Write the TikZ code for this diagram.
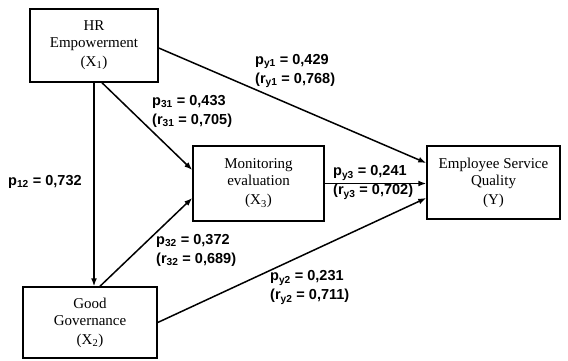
\documentclass[tikz,border=0pt]{standalone}
\usepackage{fontspec}
\setmainfont{Liberation Serif}
\newfontfamily\lblfont{Liberation Sans}
\usetikzlibrary{arrows.meta}

\begin{document}
\begin{tikzpicture}[x = 1pt, y = -1pt,
  var/.style = {draw, line width = 1.5pt, align = center, inner sep = 0pt,
    font = \fontsize{15}{17}\selectfont},
  coef/.style = {anchor = west, align = left, inner sep = 0pt,
    font = \lblfont\bfseries\fontsize{14.5}{19}\selectfont},
  path/.style = {line width = 1.5pt, -{Latex[length = 8pt, width = 6pt]}}]
\useasboundingbox (0,0) rectangle (568,361);
\node [var, minimum width = 128, minimum height = 73] (x1) at (94,45.5) {HR\\Empowerment\\[2pt](X\textsubscript{1})};
\node [var, minimum width = 134, minimum height = 71] (x2) at (90,322.5) {Good\\Governance\\[2pt](X\textsubscript{2})};
\node [var, minimum width = 131, minimum height = 75] (x3) at (258.5,183.5) {Monitoring\\evaluation\\[2pt](X\textsubscript{3})};
\node [var, minimum width = 133, minimum height = 73] (y) at (493.5,182.5) {Employee Service\\Quality\\[2pt](Y)};
\draw [path] (x1.south) -- (x1.south |- x2.north);
\draw [path] ([xshift = 8pt]x1.south) -- ([yshift = 13.5pt]x3.west);
\draw [path] ([xshift = 10pt]x2.north) -- ([yshift = -14.5pt]x3.west);
\draw [path] ([yshift = -2.5pt]x1.east) -- ([yshift = 19.5pt]y.west);
\draw [path] (x3.east) -- (x3.east -| y.west);
\draw [path] (x2.east) -- ([yshift = -15.5pt]y.west);
\node [coef] (py1) at (255,71) {p\textsubscript{y1} = 0,429\\(r\textsubscript{y1} = 0,768)};
\node [coef] (p31) at (152,111) {p\textsubscript{31} = 0,433\\(r\textsubscript{31} = 0,705)};
\node [coef] (p12) at (8,182) {p\textsubscript{12} = 0,732};
\node [coef] (py3) at (333,182.5) {p\textsubscript{y3} = 0,241\\(r\textsubscript{y3} = 0,702)};
\node [coef] (p32) at (156,250) {p\textsubscript{32} = 0,372\\(r\textsubscript{32} = 0,689)};
\node [coef] (py2) at (270,287.5) {p\textsubscript{y2} = 0,231\\(r\textsubscript{y2} = 0,711)};
\end{tikzpicture}
\end{document}
